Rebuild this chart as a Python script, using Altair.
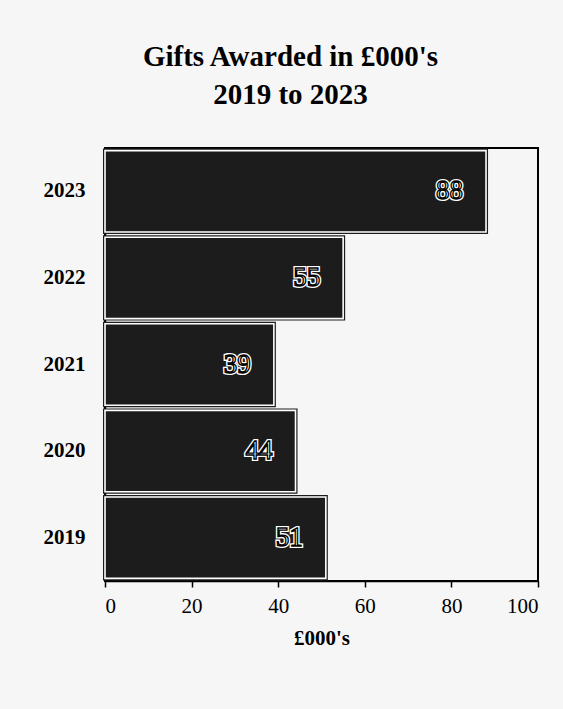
import altair as alt
import pandas as pd

years = ["2023", "2022", "2021", "2020", "2019"]
gifts = [88, 55, 39, 44, 51]
x_ticks = [0, 20, 40, 60, 80, 100]

df = pd.DataFrame({"year": years, "gifts": gifts})

FONT = "Liberation Serif"

y_enc = alt.Y(
    "year:N",
    sort=years,
    scale=alt.Scale(paddingInner=0.06, paddingOuter=0.03),
    axis=alt.Axis(
        title=None, ticks=False, labelFont=FONT, labelFontSize=21,
        labelFontWeight="bold", labelColor="black", labelPadding=20,
        domainColor="black", domainWidth=1.5, grid=False,
    ),
)
x_enc = alt.X(
    "gifts:Q",
    scale=alt.Scale(domain=[0, 100], nice=False),
    axis=alt.Axis(
        values=x_ticks, title="£000's", titleFont=FONT, titleFontSize=21,
        titleFontWeight="bold", titleColor="black", titlePadding=11,
        labelFont=FONT, labelFontSize=21, labelColor="black",
        labelPadding=8, tickSize=6, tickColor="black", tickWidth=1.5,
        domainColor="black", domainWidth=1.5, grid=False,
    ),
)

base = alt.Chart(df)

outline = base.mark_bar(color="#1c1c1c", stroke="#1c1c1c", strokeWidth=4).encode(x=x_enc, y=y_enc)
bars = base.mark_bar(color="#1c1c1c", stroke="white", strokeWidth=1.6).encode(x=x_enc, y=y_enc)

halo = base.mark_text(
    align="right", baseline="middle", dx=-23, font=FONT, fontSize=27,
    color="white", stroke="white", strokeWidth=4,
).encode(x="gifts:Q", y=alt.Y("year:N", sort=years), text="gifts:Q")
labels = base.mark_text(
    align="right", baseline="middle", dx=-23, font=FONT, fontSize=27,
    color="white", stroke="black", strokeWidth=1.3,
).encode(x="gifts:Q", y=alt.Y("year:N", sort=years), text="gifts:Q")

chart = (
    alt.layer(outline, bars, halo, labels)
    .properties(
        width=433,
        height=433,
        autosize=alt.AutoSizeParams(type="none"),
        padding={"left": 105, "top": 148, "right": 25, "bottom": 128},
        background="#f6f6f6",
        title=alt.TitleParams(
            text=["Gifts Awarded in £000's", "2019 to 2023"],
            font=FONT, fontSize=29, fontWeight="bold", color="black",
            anchor="middle", frame="group", dx=-31,
            baseline="alphabetic", lineHeight=38, offset=15,
        ),
    )
    .configure_view(stroke="black", strokeWidth=2)
)

chart.save("out.html", embed_options={"renderer": "svg", "actions": False})
